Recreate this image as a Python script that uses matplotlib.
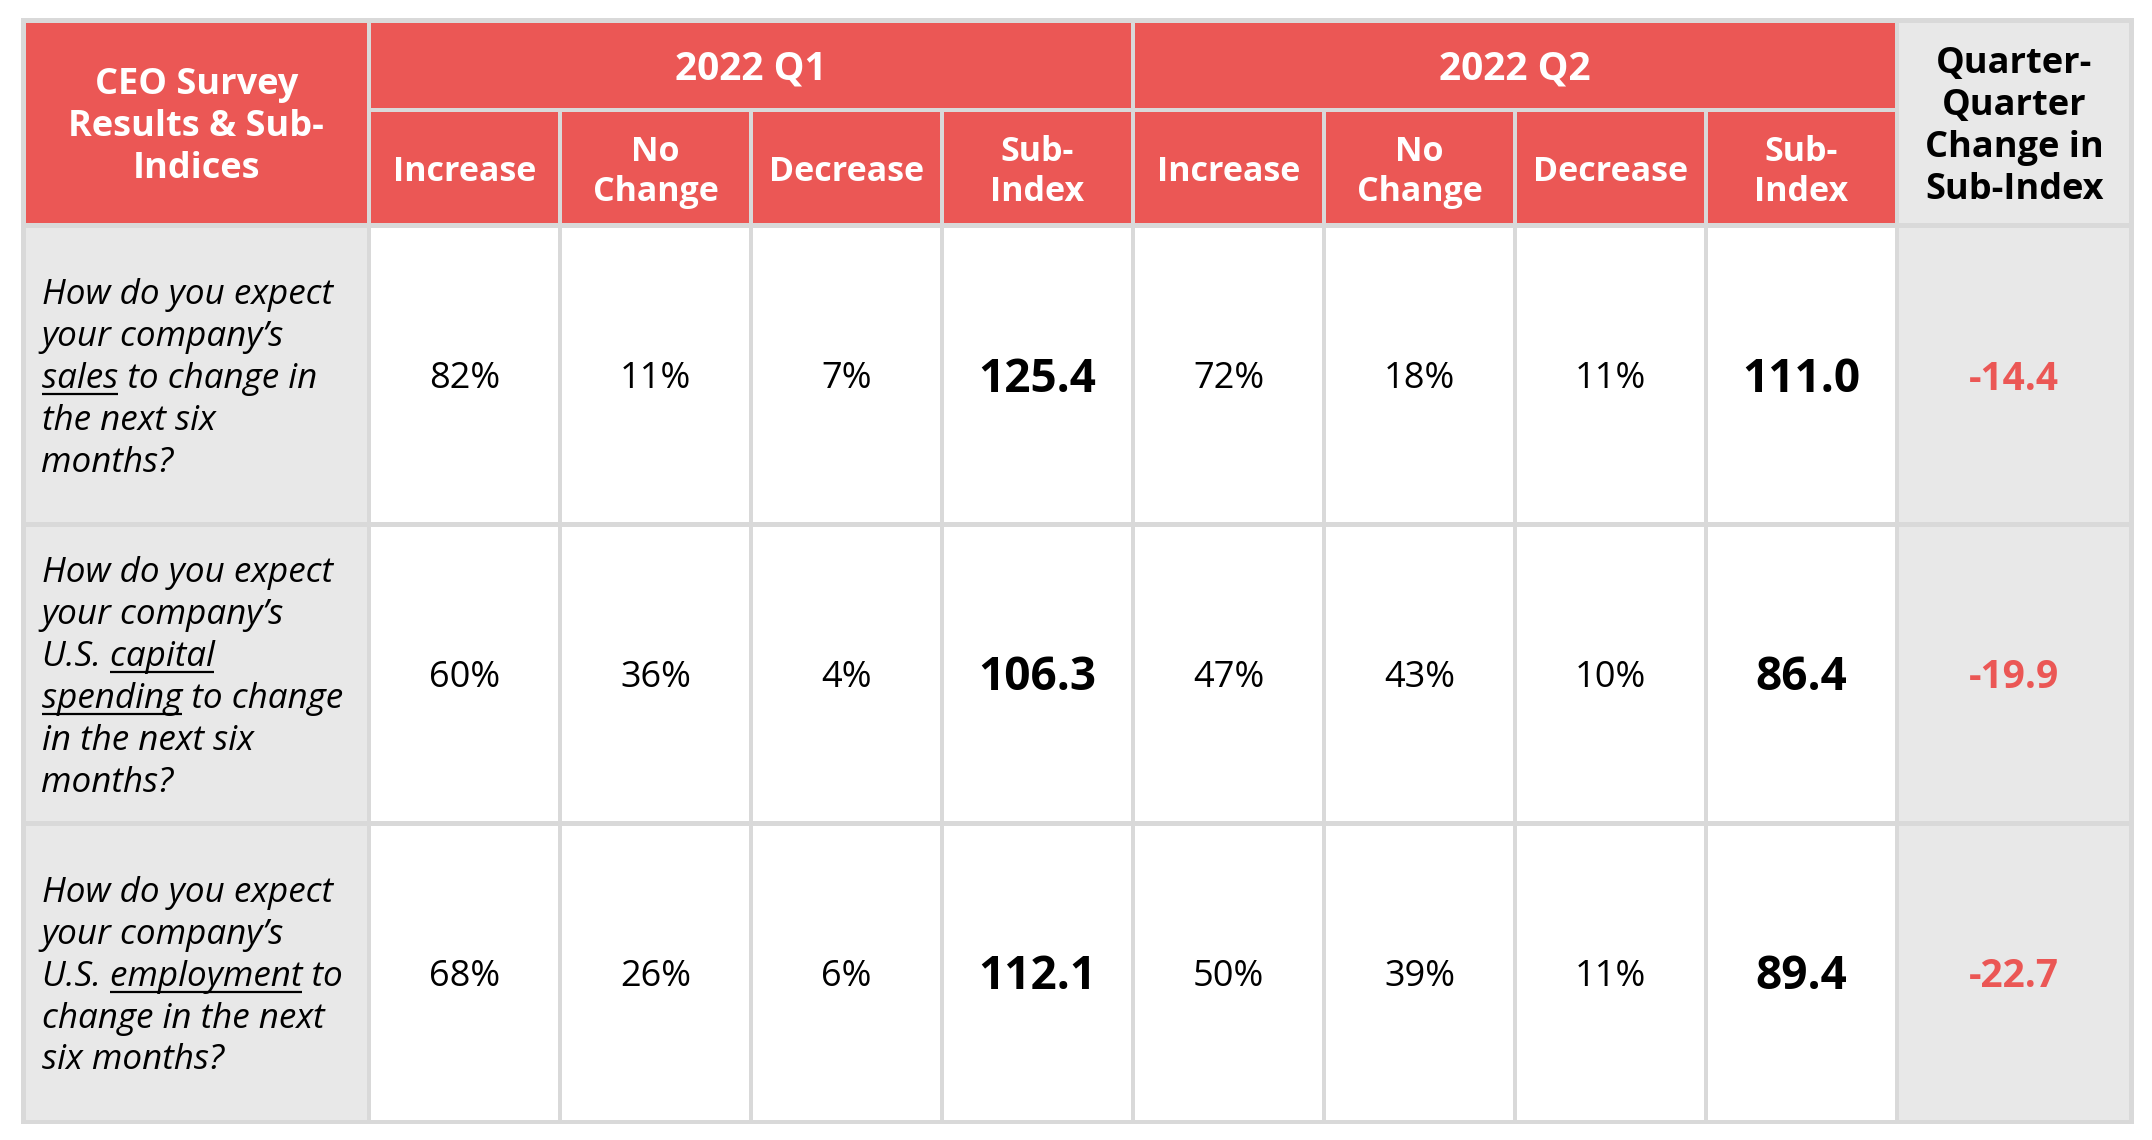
import matplotlib
matplotlib.use("Agg")
import matplotlib.pyplot as plt
from matplotlib.patches import Rectangle

# ---- data ----
period_labels = ["2022 Q1", "2022 Q2"]
column_labels = ["Increase", "No\nChange", "Decrease", "Sub-\nIndex"]
corner_label = "CEO Survey\nResults & Sub-\nIndices"
change_label = "Quarter-\nQuarter\nChange in\nSub-Index"

# words in [brackets] are underlined
question_lines = [
    ["How do you expect", "your company’s", "[sales] to change in", "the next six", "months?"],
    ["How do you expect", "your company’s", "U.S. [capital]", "[spending] to change",
     "in the next six", "months?"],
    ["How do you expect", "your company’s", "U.S. [employment] to", "change in the next",
     "six months?"],
]

q1_increase = [82, 60, 68]
q1_no_change = [11, 36, 26]
q1_decrease = [7, 4, 6]
q1_sub_index = [125.4, 106.3, 112.1]

q2_increase = [72, 47, 50]
q2_no_change = [18, 43, 39]
q2_decrease = [11, 10, 11]
q2_sub_index = [111.0, 86.4, 89.4]

qoq_change = [-14.4, -19.9, -22.7]

# ---- style ----
RED = "#EB5755"
GREY = "#E8E8E8"
LINE = "#D9D9D9"
FONT = "Open Sans"

W, H = 2152, 1140
fig = plt.figure(figsize=(W / 100, H / 100), dpi=100)
ax = fig.add_axes([0, 0, 1, 1])
ax.set_xlim(0, W)
ax.set_ylim(H, 0)
ax.axis("off")

xs = [23.5, 369, 560, 751, 942, 1133, 1324, 1515, 1706, 1897, 2131.5]
ys = [20.5, 110, 225.5, 524.5, 823.5, 1122]
gap = 4.6

ax.add_patch(Rectangle((xs[0] - gap / 2, ys[0] - gap / 2),
                       xs[-1] - xs[0] + gap, ys[-1] - ys[0] + gap,
                       facecolor=LINE, edgecolor="none"))


def cell(c0, c1, r0, r1, color):
    x0, x1 = xs[c0] + gap / 2, xs[c1] - gap / 2
    y0, y1 = ys[r0] + gap / 2, ys[r1] - gap / 2
    ax.add_patch(Rectangle((x0, y0), x1 - x0, y1 - y0, facecolor=color, edgecolor="none"))
    return (x0 + x1) / 2, (y0 + y1) / 2


def ctext(x, y, s, size, color="black", weight="bold", spacing=1.23):
    ax.text(x, y + 4, s, ha="center", va="center", fontsize=size, color=color,
            fontweight=weight, family=FONT, linespacing=spacing, multialignment="center")


# header
cx, cy = cell(0, 1, 0, 2, RED)
ctext(cx, cy, corner_label, 26, "white")
for p, label in enumerate(period_labels):
    cx, cy = cell(1 + 4 * p, 5 + 4 * p, 0, 1, RED)
    ctext(cx, cy, label, 28, "white")
    for k, col in enumerate(column_labels):
        cx, cy = cell(1 + 4 * p + k, 2 + 4 * p + k, 1, 2, RED)
        ctext(cx, cy, col, 24.5, "white", spacing=1.22)
cx, cy = cell(9, 10, 0, 2, GREY)
ctext(cx, cy, change_label, 26, "black")

# body
renderer = fig.canvas.get_renderer()


def text_width(s, size):
    t = ax.text(0, 0, s, fontsize=size, family=FONT, style="italic")
    w = t.get_window_extent(renderer).width
    t.remove()
    return w


rows = list(zip(q1_increase, q1_no_change, q1_decrease, q1_sub_index,
                q2_increase, q2_no_change, q2_decrease, q2_sub_index))
q_size = 25.2
line_h = 41.8
for r, vals in enumerate(rows):
    cx, cy = cell(0, 1, 2 + r, 3 + r, GREY)
    lines = question_lines[r]
    top = cy - (len(lines) - 1) * line_h / 2
    for i, raw in enumerate(lines):
        plain = raw.replace("[", "").replace("]", "")
        yb = top + i * line_h + 13
        x0 = xs[0] + 18
        ax.text(x0, yb, plain, ha="left", va="baseline", fontsize=q_size,
                family=FONT, style="italic", color="black")
        if "[" in raw:
            pre, rest = raw.split("[", 1)
            word = rest.split("]", 1)[0]
            end = text_width(pre + word, q_size)
            start = end - text_width(word, q_size)
            ax.plot([x0 + start, x0 + end], [yb + 6, yb + 6], color="black", lw=1.6,
                    solid_capstyle="butt")
    for k, v in enumerate(vals):
        cx, cy = cell(1 + k, 2 + k, 2 + r, 3 + r, "white")
        if k % 4 == 3:
            ctext(cx, cy, f"{v:.1f}", 33, "black", "bold")
        else:
            ctext(cx, cy, f"{v}%", 26, "black", "normal")
    cx, cy = cell(9, 10, 2 + r, 3 + r, GREY)
    ctext(cx, cy, f"{qoq_change[r]:.1f}", 28, RED, "bold")

fig.savefig("out.png", dpi=100, facecolor="white")
